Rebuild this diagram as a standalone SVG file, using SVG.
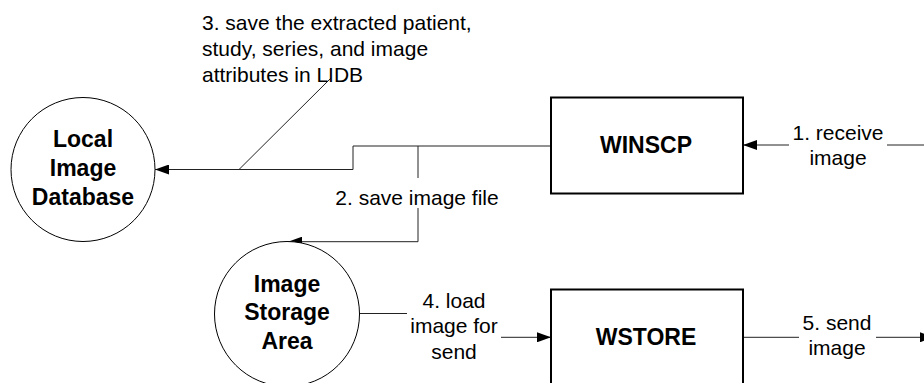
<svg xmlns="http://www.w3.org/2000/svg" width="924" height="383" viewBox="0 0 924 383">
<defs>
<style>
.lbl{font-family:"Liberation Sans",Arial,sans-serif;font-size:21px;fill:#000}
.nt{font-family:"Liberation Sans",Arial,sans-serif;font-size:23px;font-weight:bold;fill:#000;text-anchor:middle}
.c{fill:none;stroke:#222;stroke-width:1}
.circ{fill:#fff;stroke:#000;stroke-width:1}
.box{fill:#fff;stroke:#000;stroke-width:2}
</style>
<marker id="ah" markerUnits="userSpaceOnUse" markerWidth="14" markerHeight="10" refX="14" refY="5" orient="auto" viewBox="0 0 14 10">
<path d="M0,0 L14,5 L0,10 z" fill="#000"/>
</marker>
</defs>
<rect width="924" height="383" fill="#fff"/>
<g id="connectors">
<path class="c" d="M551,146 H353 V169.5 H155" marker-end="url(#ah)"/>
<path class="c" d="M239,169.5 L331,78"/>
<path class="c" d="M418,146 V178 M418,208 V241.7 H288" marker-end="url(#ah)"/>
<path class="c" d="M924,145 H887 M789,145 H743" marker-end="url(#ah)"/>
<path class="c" d="M359,313.5 H407 M501,337.3 H551" marker-end="url(#ah)"/>
<path class="c" d="M743,337.3 H799 M876,337.3 H934" marker-end="url(#ah)"/>
<text class="lbl" x="202" y="29.5">3. save the extracted patient,</text>
<text class="lbl" x="202" y="55.5">study, series, and image</text>
<text class="lbl" x="202" y="81.5">attributes in LIDB</text>
<text class="lbl" x="417" y="205" text-anchor="middle">2. save image file</text>
<text class="lbl" x="838" y="139.5" text-anchor="middle">1. receive</text>
<text class="lbl" x="838" y="165" text-anchor="middle">image</text>
<text class="lbl" x="454" y="307.5" text-anchor="middle">4. load</text>
<text class="lbl" x="454" y="333" text-anchor="middle">image for</text>
<text class="lbl" x="454" y="358.5" text-anchor="middle">send</text>
<text class="lbl" x="837" y="329.5" text-anchor="middle">5. send</text>
<text class="lbl" x="837" y="355" text-anchor="middle">image</text>
</g>
<g id="lidb">
<circle class="circ" cx="83" cy="169.5" r="72"/>
<text class="nt" x="83" y="147">Local</text>
<text class="nt" x="83" y="176">Image</text>
<text class="nt" x="83" y="205">Database</text>
</g>
<g id="isa">
<circle class="circ" cx="287" cy="314" r="72.5"/>
<text class="nt" x="287" y="291.5">Image</text>
<text class="nt" x="287" y="320">Storage</text>
<text class="nt" x="287" y="348.5">Area</text>
</g>
<g id="winscp">
<rect class="box" x="551" y="97.5" width="192" height="96"/>
<text class="nt" x="646" y="153">WINSCP</text>
</g>
<g id="wstore">
<rect class="box" x="551" y="289.5" width="192" height="96"/>
<text class="nt" x="646" y="345">WSTORE</text>
</g>
</svg>
